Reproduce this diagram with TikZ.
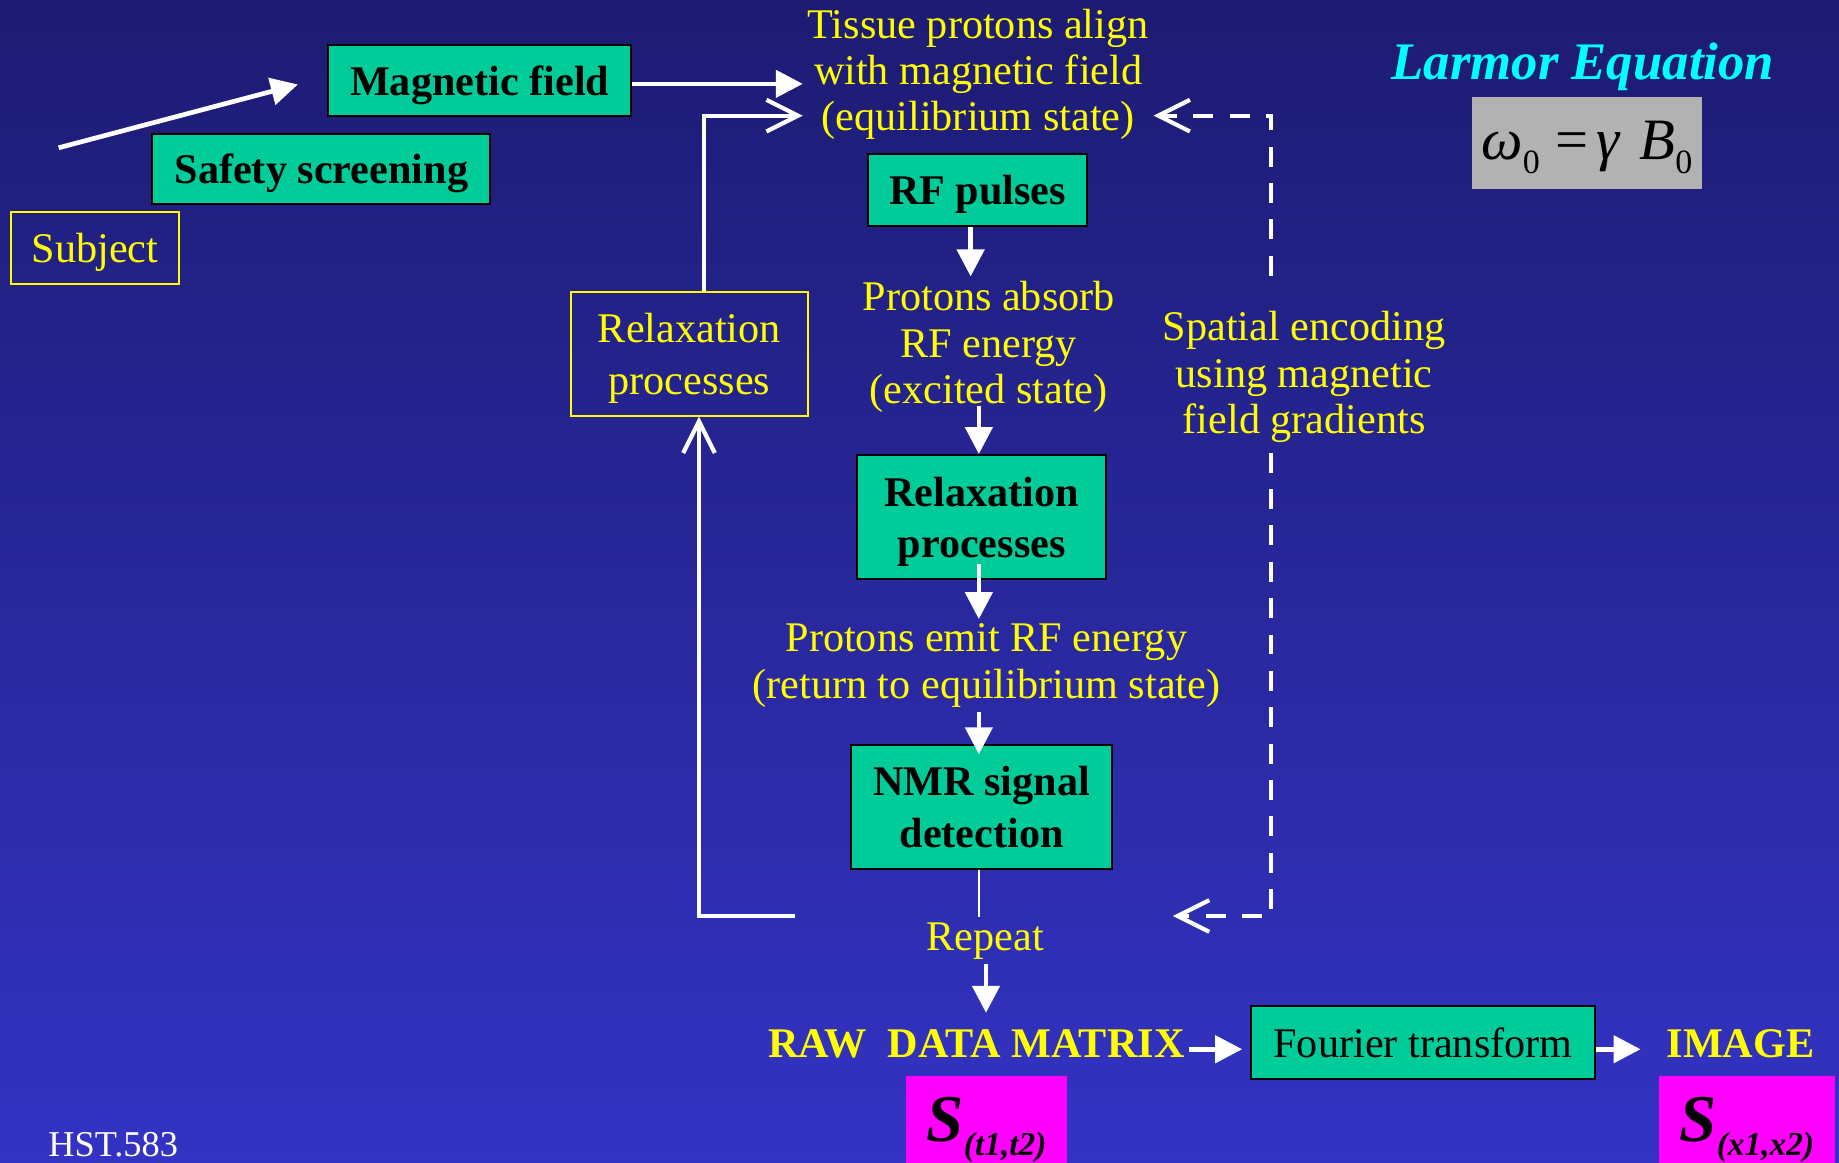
\documentclass[tikz,border=0pt]{standalone}
\usepackage{fontspec}
\setmainfont{Liberation Serif}
\usetikzlibrary{arrows.meta}
\definecolor{bgtop}{HTML}{1D1B72}
\definecolor{bgbot}{HTML}{3333C4}
\definecolor{boxgreen}{HTML}{00CC99}
\definecolor{textyellow}{HTML}{FFFF00}
\definecolor{larmorcyan}{HTML}{00FFFF}
\definecolor{graybox}{HTML}{B2B2B2}
\definecolor{magbox}{HTML}{FF00FF}
\tikzset{
  txt/.style={text=textyellow, font=\fontsize{36}{39.5}\selectfont, align=center, inner sep=4pt},
  gbox/.style={draw=black, line width=1.7pt, fill=boxgreen, text=black,
    font=\fontsize{36}{44}\selectfont\bfseries, align=center, inner sep=0pt,
    text height=25pt, text depth=0pt},
  ybox/.style={draw=textyellow, line width=1.7pt, text=textyellow,
    font=\fontsize{36}{44}\selectfont, align=center, inner sep=0pt,
    text height=25pt, text depth=0pt},
  twolines/.style={text height=69pt, text depth=0pt},
  magstyle/.style={fill=magbox, draw=none, text=black, inner sep=0pt,
    minimum height=82.5pt, text height=28.5pt, text depth=0pt},
  arr/.style={draw=white, line width=4pt, -{Triangle[length=23pt,width=23pt]}},
  ret/.style={draw=white, line width=3.6pt, -{Straight Barb[length=27pt,width=27pt]}},
  dret/.style={draw=white, line width=3.6pt, dash pattern=on 17pt off 14pt,
    -{Straight Barb[length=27pt,width=27pt]}},
  thinline/.style={draw=white, line width=1.3pt}
}
\newcommand{\bigS}[1]{{\fontsize{57}{57}\selectfont\bfseries\itshape S}\raisebox{-12.5pt}{\fontsize{28.5}{28.5}\selectfont\bfseries\itshape #1}}
\begin{document}
\begin{tikzpicture}[x=1pt,y=-1pt]
\shade[top color=bgtop, bottom color=bgbot] (0,0) rectangle (1568,991);
\useasboundingbox (0,0) rectangle (1568,991);

% boxes
\node[gbox, minimum width=258pt, minimum height=61pt] (mag) at (409,68.5) {Magnetic field};
\node[gbox, minimum width=288pt, minimum height=60pt] (safety) at (274,144) {Safety screening};
\node[ybox, minimum width=144pt, minimum height=61pt] (subj) at (81,211.5) {Subject};
\node[gbox, minimum width=187pt, minimum height=62pt] (rf) at (833.5,162) {RF pulses};
\node[ybox, twolines, minimum width=202.5pt, minimum height=105.7pt] (relaxY) at (587.75,301.5) {Relaxation\\processes};
\node[gbox, twolines, minimum width=212pt, minimum height=106pt] (relaxG) at (837,441) {Relaxation\\processes};
\node[gbox, twolines, minimum width=222pt, minimum height=106pt] (nmr) at (837,688) {NMR signal\\detection};
\node[gbox, font=\fontsize{36}{44}\selectfont\mdseries, minimum width=293.3pt, minimum height=61.7pt] (fourier) at (1213.3,889) {Fourier transform};

% free texts (base = baseline of last line)
\node[txt, anchor=base] (tissue) at (834,111.4) {Tissue protons align\\with magnetic field\\(equilibrium state)};
\node[txt, anchor=base] (absorb) at (843,343.9) {Protons absorb\\RF energy\\(excited state)};
\node[txt, anchor=base] (spatial) at (1112,369.5) {Spatial encoding\\using magnetic\\field gradients};
\node[txt, anchor=base] (emit) at (841,595.4) {Protons emit RF energy\\(return to equilibrium state)};
\node[txt, anchor=base] (repeat) at (840,810) {Repeat};
\node[txt, anchor=base, font=\fontsize{36}{39.5}\selectfont\bfseries] (raw) at (832.5,901.5) {RAW\hspace{18pt}DATA MATRIX};
\node[txt, anchor=base, font=\fontsize{36}{39.5}\selectfont\bfseries] (image) at (1484,901.5) {IMAGE};

% Larmor equation
\node[anchor=base, text=larmorcyan, font=\fontsize{45}{45}\selectfont\bfseries\itshape, inner sep=0pt] (larmor) at (1349.5,68.2) {Larmor Equation};
\node[fill=graybox, inner sep=0pt, minimum width=196pt, minimum height=78.3pt,
  text height=28pt, text depth=0pt, text=black, font=\fontsize{50}{50}\selectfont] (formula) at (1353,121.8)
  {{\itshape ω}\raisebox{-12pt}{\fontsize{29}{29}\selectfont 0}\hspace{13pt}=\hspace{7pt}{\itshape γ}\hspace{17pt}{\itshape B}\raisebox{-12pt}{\fontsize{29}{29}\selectfont 0}};

% magenta boxes
\node[magstyle, minimum width=137.2pt] (magL) at (841.2,958.75) {\bigS{(t1,t2)}};
\node[magstyle, minimum width=150.2pt] (magR) at (1489.5,958.75) {\bigS{(x1,x2)}};

\node[anchor=base, text=white, font=\fontsize{31}{31}\selectfont, inner sep=0pt] (hst) at (96.5,985.7) {HST.583};

% coordinates
\coordinate (scrA) at (50,126);
\coordinate (scrB) at (254,72);
\coordinate (ax1) at (827.6,0);
\coordinate (ax2) at (834.6,0);
\coordinate (ax3) at (840.7,0);
\coordinate (ay) at (0,894.6);
\coordinate (retTop) at (600,98.6);
\coordinate (retStart) at (678,781);
\coordinate (retBot) at (596,781);
\coordinate (dA) at (1084,235);
\coordinate (dC1) at (1084,98.6);
\coordinate (dB) at (1084,386);
\coordinate (dC2) at (1084,781);
\coordinate (dTip) at (1000,781);

% connectors
\draw[arr] (scrA) -- (scrB);
\draw[arr] ([yshift=-3pt]mag.east) -- ([yshift=-3pt]mag.east -| tissue.west);
\draw[arr] (rf.south -| ax1) -- (absorb.north -| ax1);
\draw[arr, shorten <=-10pt] (absorb.south -| ax2) -- (relaxG.north -| ax2);
\draw[arr, shorten <=-14pt] (relaxG.south -| ax2) -- (emit.north -| ax2);
\draw[arr, shorten >=-9pt] (emit.south -| ax2) -- (nmr.north -| ax2);
\draw[thinline] (nmr.south -| ax2) -- (repeat.north -| ax2);
\draw[arr, shorten >=10pt] (repeat.south -| ax3) -- (raw.north -| ax3);
\draw[arr, shorten >=6.7pt] (raw.east |- ay) -- (fourier.west |- ay);
\draw[arr, shorten >=18pt] (fourier.east |- ay) -- (image.west |- ay);

\draw[ret] (relaxY.north -| retTop) -- (retTop) -- (retTop -| tissue.west);
\draw[ret] (retStart) -- (retBot) -- (retBot |- relaxY.south);
\draw[dret] (dA) -- (dC1) -- (dC1 -| tissue.east);
\draw[dret] (dB) -- (dC2) -- (dTip);
\end{tikzpicture}
\end{document}
